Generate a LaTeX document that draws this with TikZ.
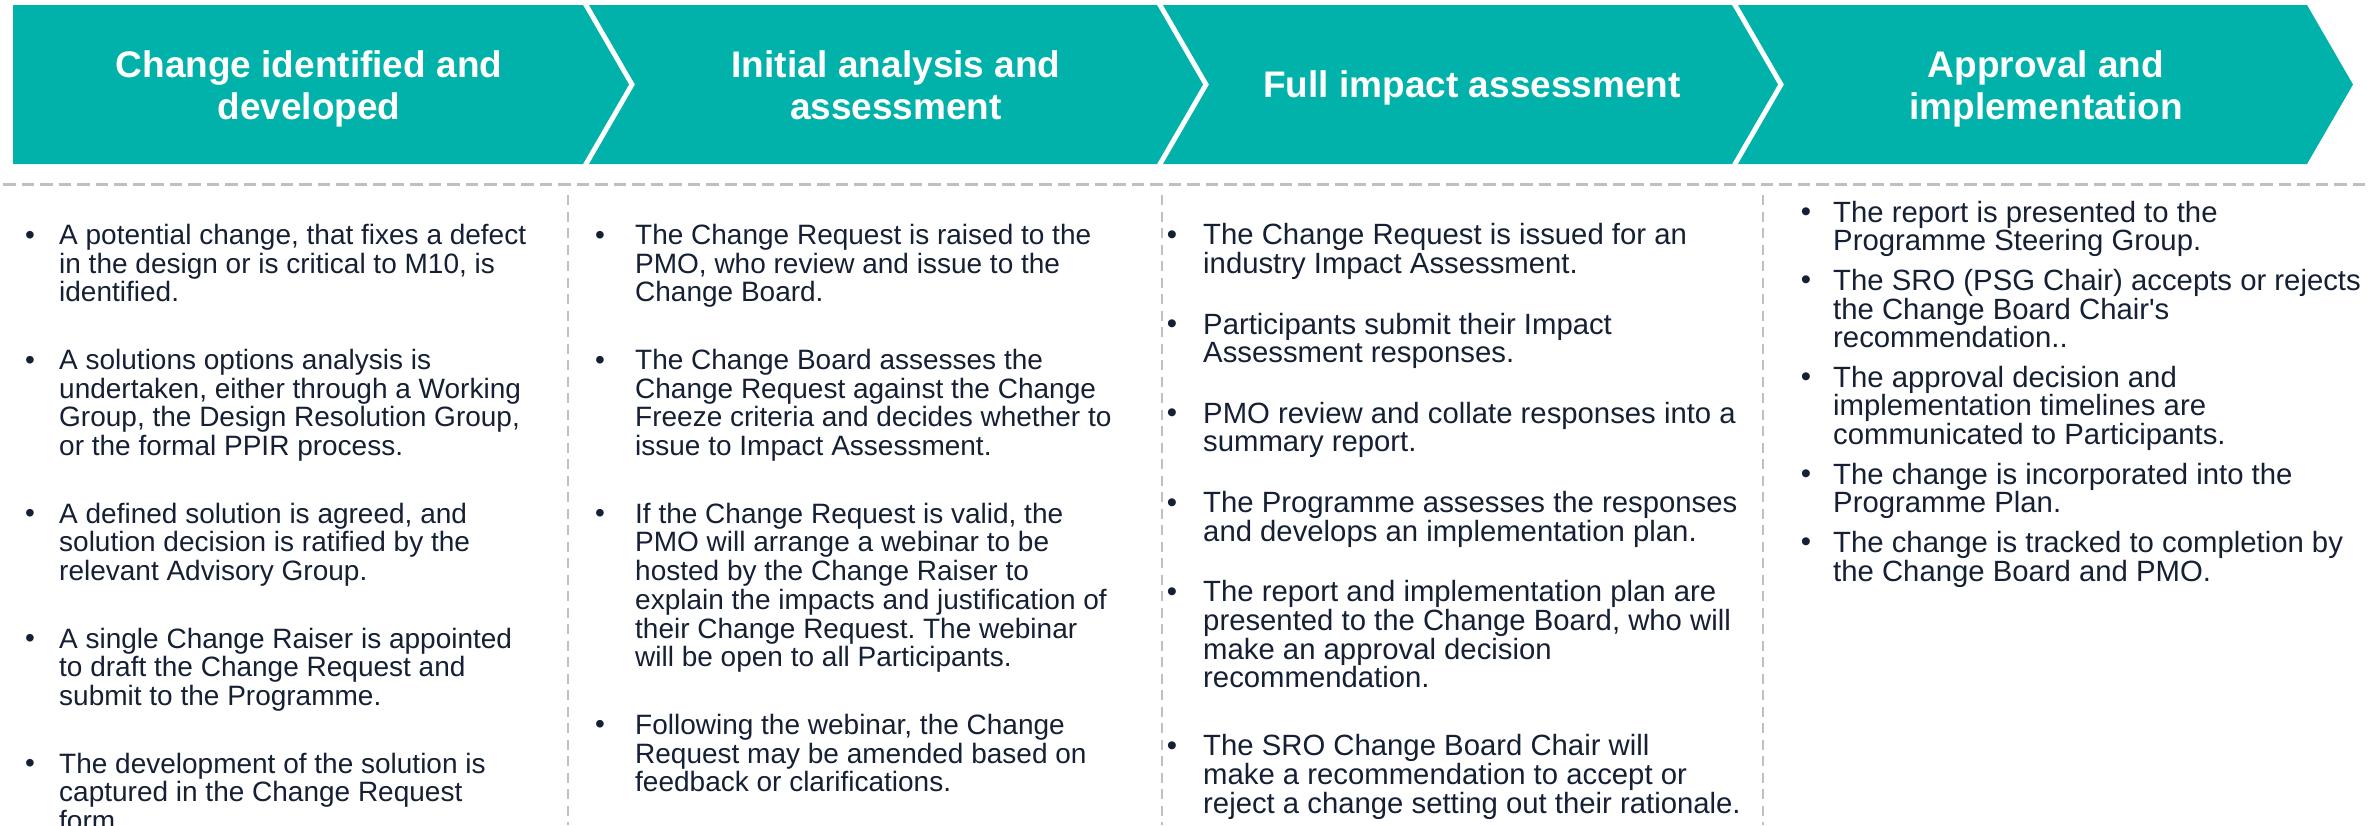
\documentclass[tikz,border=0pt]{standalone}
\usepackage{fontspec}
\setmainfont{Liberation Sans}[Ligatures=TeXOff]
\frenchspacing
\definecolor{teal1}{HTML}{00B2A9}
\definecolor{ink}{RGB}{22,32,52}
\definecolor{dashgray}{RGB}{192,192,192}
\tikzset{
  chev/.style={fill=teal1, draw=none},
  head/.style={text=white, font=\bfseries\fontsize{37}{42}\selectfont, align=center, inner sep=0pt, anchor=north},
  body/.style={text=ink, font=\fontsize{28}{28.7}\selectfont, align=left, inner sep=0pt, anchor=north west},
  bul/.style={text=ink, font=\fontsize{28}{28.7}\selectfont, inner sep=0pt, anchor=base},
  bodyb/.style={body, font=\fontsize{29.3}{28.7}\selectfont},
  bulb/.style={bul, font=\fontsize{29.3}{28.7}\selectfont},
  hdash/.style={draw=dashgray, line width=3pt, dash pattern=on 12.5pt off 6pt},
  vdash/.style={draw=dashgray, line width=2.5pt, dash pattern=on 10pt off 6.5pt}
}
\begin{document}
\begin{tikzpicture}[x=1pt,y=-1pt]
\useasboundingbox (0,0) rectangle (2371,825);
\fill[white] (0,0) rectangle (2371,825);

% chevrons
\fill[chev] (13,5) -- (583,5) -- (629,84.5) -- (583,164) -- (13,164) -- cycle;
\fill[chev] (589,5) -- (1157,5) -- (1203,84.5) -- (1157,164) -- (589,164) -- (635,84.5) -- cycle;
\fill[chev] (1163,5) -- (1732,5) -- (1778,84.5) -- (1732,164) -- (1163,164) -- (1209,84.5) -- cycle;
\fill[chev] (1738,5) -- (2307,5) -- (2353,84.5) -- (2307,164) -- (1738,164) -- (1784,84.5) -- cycle;

\node[head] (h1) at (309,50) {Change identified and\\developed};
\node[head] (h2) at (896,50) {Initial analysis and\\assessment};
\node[head] (h3) at (1472,70.5) {Full impact assessment};
\node[head] (h4) at (2046,50) {Approval and\\implementation};

% dashed separators
\coordinate (hl) at (3,184.5);
\coordinate (hr) at (2371,184.5);
\draw[hdash] (hl) -- (hr);
\coordinate (v1t) at (568,195); \coordinate (v1b) at (568,825);
\coordinate (v2t) at (1162,195); \coordinate (v2b) at (1162,825);
\coordinate (v3t) at (1763,195); \coordinate (v3b) at (1763,825);
\draw[vdash] (v1t) -- (v1b);
\draw[vdash] (v2t) -- (v2b);
\draw[vdash] (v3t) -- (v3b);

% column 1
\node[bul] (b11) at (30,244) {•};
\node[body] (t11) at (59,224) {A potential change, that fixes a defect\\in the design or is critical to M10, is\\identified.};
\node[bul] (b12) at (30,369) {•};
\node[body] (t12) at (59,349) {A solutions options analysis is\\undertaken, either through a Working\\Group, the Design Resolution Group,\\or the formal PPIR process.};
\node[bul] (b13) at (30,522.7) {•};
\node[body] (t13) at (59,502.7) {A defined solution is agreed, and\\solution decision is ratified by the\\relevant Advisory Group.};
\node[bul] (b14) at (30,647.7) {•};
\node[body] (t14) at (59,627.7) {A single Change Raiser is appointed\\to draft the Change Request and\\submit to the Programme.};
\node[bul] (b15) at (30,772.7) {•};
\node[body] (t15) at (59,752.7) {The development of the solution is\\captured in the Change Request\\form.};

% column 2
\node[bul] (b21) at (600,244) {•};
\node[body] (t21) at (635,224) {The Change Request is raised to the\\PMO, who review and issue to the\\Change Board.};
\node[bul] (b22) at (600,369) {•};
\node[body] (t22) at (635,349) {The Change Board assesses the\\Change Request against the Change\\Freeze criteria and decides whether to\\issue to Impact Assessment.};
\node[bul] (b23) at (600,522.7) {•};
\node[body] (t23) at (635,502.7) {If the Change Request is valid, the\\PMO will arrange a webinar to be\\hosted by the Change Raiser to\\explain the impacts and justification of\\their Change Request. The webinar\\will be open to all Participants.};
\node[bul] (b24) at (600,733.8) {•};
\node[body] (t24) at (635,713.8) {Following the webinar, the Change\\Request may be amended based on\\feedback or clarifications.};

% column 3
\node[bulb] (b31) at (1172,244.4) {•};
\node[bodyb] (t31) at (1203,223.4) {The Change Request is issued for an\\industry Impact Assessment.};
\node[bulb] (b32) at (1172,333.6) {•};
\node[bodyb] (t32) at (1203,312.6) {Participants submit their Impact\\Assessment responses.};
\node[bulb] (b33) at (1172,422.8) {•};
\node[bodyb] (t33) at (1203,401.8) {PMO review and collate responses into a\\summary report.};
\node[bulb] (b34) at (1172,512) {•};
\node[bodyb] (t34) at (1203,491) {The Programme assesses the responses\\and develops an implementation plan.};
\node[bulb] (b35) at (1172,601.2) {•};
\node[bodyb] (t35) at (1203,580.2) {The report and implementation plan are\\presented to the Change Board, who will\\make an approval decision\\recommendation.};
\node[bulb] (b36) at (1172,755.4) {•};
\node[bodyb] (t36) at (1203,734.4) {The SRO Change Board Chair will\\make a recommendation to accept or\\reject a change setting out their rationale.};

% column 4
\node[bulb] (b41) at (1806,221.7) {•};
\node[bodyb] (t41) at (1833,200.7) {The report is presented to the\\Programme Steering Group.};
\node[bulb] (b42) at (1806,289.9) {•};
\node[bodyb] (t42) at (1833,268.9) {The SRO (PSG Chair) accepts or rejects\\the Change Board Chair's\\recommendation..};
\node[bulb] (b43) at (1806,386.8) {•};
\node[bodyb] (t43) at (1833,365.8) {The approval decision and\\implementation timelines are\\communicated to Participants.};
\node[bulb] (b44) at (1806,483.7) {•};
\node[bodyb] (t44) at (1833,462.7) {The change is incorporated into the\\Programme Plan.};
\node[bulb] (b45) at (1806,551.9) {•};
\node[bodyb] (t45) at (1833,530.9) {The change is tracked to completion by\\the Change Board and PMO.};
\end{tikzpicture}
\end{document}
